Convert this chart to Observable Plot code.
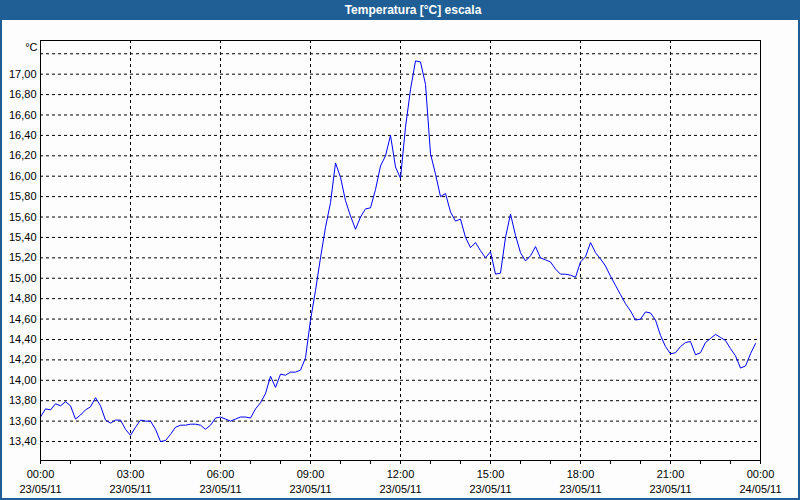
<!DOCTYPE html>
<html>
<head>
<meta charset="utf-8">
<script src="https://cdn.jsdelivr.net/npm/d3@7"></script>
<script src="https://cdn.jsdelivr.net/npm/@observablehq/plot@0.6"></script>
<style>
  html, body { margin: 0; padding: 0; background: #fcfdfc; }
  #win { position: relative; width: 800px; height: 500px; background: #fcfdfc; overflow: hidden; font-family: "Liberation Sans", Arial, sans-serif; }
  #bar { position: absolute; left: 0; top: 0; width: 800px; height: 20px; background: #1f5f96; }
  #title { position: absolute; left: 0; top: 0; width: 826px; height: 20px; line-height: 20px; text-align: center; color: #fff; font-weight: bold; font-size: 12px; }
  #chart { position: absolute; left: 0; top: 20px; }
  #border { position: absolute; left: 0; top: 0; width: 800px; height: 500px; box-sizing: border-box; border: 2px solid #1f5f96; border-top: none; pointer-events: none; }
</style>
</head>
<body>
<div id="win">
  <div id="bar"></div>
  <div id="title">Temperatura [°C] escala</div>
  <div id="chart"></div>
  <div id="border"></div>
</div>
<script>
// Temperature readings, 10-minute steps from 23/05/11 00:00
const temps = [
  13.64, 13.72, 13.71, 13.77, 13.75, 13.79, 13.75, 13.62, 13.66, 13.71, 13.74, 13.83,
  13.75, 13.61, 13.58, 13.61, 13.61, 13.52, 13.46, 13.54, 13.61, 13.60, 13.60, 13.52,
  13.40, 13.41, 13.47, 13.54, 13.56, 13.56, 13.57, 13.57, 13.56, 13.52, 13.56, 13.63,
  13.64, 13.62, 13.60, 13.62, 13.64, 13.64, 13.63, 13.72, 13.78, 13.87, 14.04, 13.93,
  14.06, 14.05, 14.08, 14.08, 14.10, 14.22, 14.59, 14.88, 15.20, 15.50, 15.74, 16.13,
  15.99, 15.76, 15.61, 15.48, 15.60, 15.68, 15.69, 15.87, 16.10, 16.20, 16.40, 16.09,
  15.98, 16.48, 16.85, 17.13, 17.12, 16.90, 16.22, 16.02, 15.80, 15.83, 15.65, 15.56,
  15.58, 15.40, 15.30, 15.35, 15.27, 15.20, 15.26, 15.04, 15.05, 15.40, 15.63, 15.42,
  15.25, 15.17, 15.22, 15.31, 15.20, 15.18, 15.16, 15.09, 15.04, 15.04, 15.03, 15.01,
  15.16, 15.21, 15.35, 15.25, 15.19, 15.12, 15.02, 14.93, 14.84, 14.75, 14.68, 14.59,
  14.60, 14.67, 14.66, 14.59, 14.44, 14.33, 14.26, 14.27, 14.33, 14.37, 14.38, 14.25,
  14.27, 14.37, 14.41, 14.45, 14.42, 14.39, 14.31, 14.24, 14.12, 14.14, 14.26, 14.36
];
const yTicks = [13.4, 13.6, 13.8, 14.0, 14.2, 14.4, 14.6, 14.8, 15.0, 15.2, 15.4, 15.6, 15.8, 16.0, 16.2, 16.4, 16.6, 16.8, 17.0, 17.2];
const yLabelTicks = [13.4, 13.6, 13.8, 14.0, 14.2, 14.4, 14.6, 14.8, 15.0, 15.2, 15.4, 15.6, 15.8, 16.0, 16.2, 16.4, 16.6, 16.8, 17.0];
const xTickTimes = ["00:00", "03:00", "06:00", "09:00", "12:00", "15:00", "18:00", "21:00", "00:00"];
const xTickDates = ["23/05/11", "23/05/11", "23/05/11", "23/05/11", "23/05/11", "23/05/11", "23/05/11", "23/05/11", "24/05/11"];
const unitLabel = "°C";

const start = Date.UTC(2011, 4, 23, 0, 0);
const end = Date.UTC(2011, 4, 24, 0, 0);
const HOUR = 3600000;
const data = temps.map((v, k) => ({ t: new Date(start + k * 600000), v }));
const majorTicks = xTickTimes.map((_, i) => new Date(start + i * 3 * HOUR));
const hourTicks = d3.range(25).map(h => new Date(start + h * HOUR));
const labelOf = new Map(majorTicks.map((d, i) => [+d, i]));

const font = "'Liberation Sans', Arial, sans-serif";
const chart = Plot.plot({
  width: 800,
  height: 480,
  marginLeft: 40,
  marginRight: 40,
  marginTop: 20,
  marginBottom: 40,
  style: { fontFamily: font, fontSize: "11px", background: "transparent", color: "#000", overflow: "visible" },
  x: { type: "utc", domain: [new Date(start), new Date(end)] },
  y: { domain: [13.214, 17.33] },
  marks: [
    Plot.gridY(yTicks, { stroke: "#000", strokeOpacity: 1, strokeDasharray: "3,3", strokeWidth: 1 }),
    Plot.gridX(majorTicks, { stroke: "#000", strokeOpacity: 1, strokeDasharray: "3,3", strokeWidth: 1 }),
    Plot.line(data, { x: "t", y: "v", stroke: "#0000ff", strokeWidth: 1 }),
    Plot.frame({ stroke: "#000", strokeWidth: 1 }),
    Plot.axisY(yLabelTicks, { tickSize: 0, tickPadding: 4, fontSize: 11, fill: "#000",
      tickFormat: d => d.toFixed(2).replace(".", ","), label: null }),
    Plot.axisX(hourTicks, { tickSize: 4, stroke: "#000", tickFormat: () => "", label: null }),
    Plot.axisX(majorTicks, { tickSize: 0, tickPadding: 10, fontSize: 11, fill: "#000",
      tickFormat: d => xTickTimes[labelOf.get(+d)], label: null }),
    Plot.axisX(majorTicks, { tickSize: 0, tickPadding: 25, fontSize: 11, fill: "#000",
      tickFormat: d => xTickDates[labelOf.get(+d)], label: null }),
    Plot.text([unitLabel], { frameAnchor: "top-left", textAnchor: "end", lineAnchor: "middle",
      dx: -3, dy: 7, fontSize: 11, fill: "#000" })
  ]
});
document.getElementById("chart").appendChild(chart);
</script>
</body>
</html>
